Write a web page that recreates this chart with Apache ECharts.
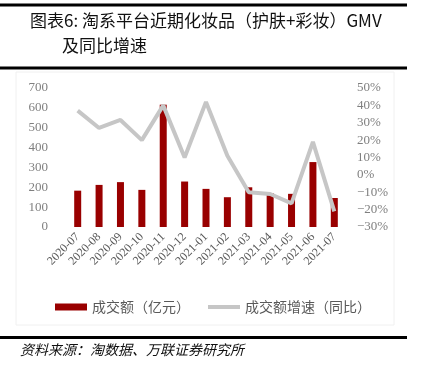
<!DOCTYPE html>
<html><head><meta charset="utf-8">
<script src="https://cdn.jsdelivr.net/npm/echarts@6/dist/echarts.min.js"></script>
<style>html,body{margin:0;padding:0;background:#fff}#c{width:425px;height:370px}</style>
</head><body><div id="c"></div>
<script>
var categories = ['2020-07','2020-08','2020-09','2020-10','2020-11','2020-12','2021-01','2021-02','2021-03','2021-04','2021-05','2021-06','2021-07'];
var gmv = [183, 212, 226, 187, 616, 229, 192, 150, 200, 170, 167, 327, 146];
var yoy = [37, 27, 31.6, 20, 40, 10, 42, 11, -10, -11, -16.4, 19, -21];
var leftTicks = [0, 700, 100];
var rightTicks = [-30, 50, 10];
var titleLine1 = '图表6: 淘系平台近期化妆品（护肤+彩妆）GMV';
var titleLine2 = '及同比增速';
var sourceText = '资料来源：淘数据、万联证券研究所';
var seriesNames = ['成交额（亿元）', '成交额增速（同比）'];

var chart = echarts.init(document.getElementById('c'), null, {renderer: 'canvas'});
var serif = '"Liberation Serif", "DejaVu Serif", serif';
var cjk = '"Noto Sans CJK SC", sans-serif';
chart.setOption({
  animation: false,
  backgroundColor: '#fff',
  grid: {left: 67, right: 80, top: 88, height: 139},
  legend: {
    left: 50, top: 295,
    itemWidth: 32, itemHeight: 7, itemGap: 18,
    textStyle: {fontFamily: cjk, fontSize: 14, color: '#595959'},
    data: [
      {name: seriesNames[0], icon: 'rect'},
      {name: seriesNames[1], icon: 'path://M0,0H32V4H0Z', itemStyle: {color: '#c6c6c6'}}
    ]
  },
  xAxis: {
    type: 'category', data: categories,
    axisLine: {show: false}, axisTick: {show: false},
    axisLabel: {rotate: 45, margin: 8, fontFamily: serif, fontSize: 12, color: '#595959', interval: 0}
  },
  yAxis: [
    {type: 'value', min: leftTicks[0], max: leftTicks[1], interval: leftTicks[2],
     splitLine: {show: false}, axisLine: {show: false}, axisTick: {show: false},
     axisLabel: {margin: 19, fontFamily: serif, fontSize: 13, color: '#7f7f7f'}},
    {type: 'value', min: rightTicks[0], max: rightTicks[1], interval: rightTicks[2],
     splitLine: {show: false}, axisLine: {show: false}, axisTick: {show: false},
     axisLabel: {margin: 12, fontFamily: serif, fontSize: 13, color: '#7f7f7f', align: 'left',
       formatter: function (v) { return (v < 0 ? '\u2212' + (-v) : v) + '%'; }}}
  ],
  series: [
    {name: seriesNames[0], type: 'bar', data: gmv, barWidth: 7, itemStyle: {color: '#990000'}},
    {name: seriesNames[1], type: 'line', yAxisIndex: 1, data: yoy, symbol: 'none',
     lineStyle: {color: '#c6c6c6', width: 4}, itemStyle: {color: '#c6c6c6'}, z: 3}
  ],
  graphic: [
    {type: 'rect', shape: {x: 16, y: 72, width: 378, height: 253}, style: {fill: 'none', stroke: '#f0f0f0', lineWidth: 1}, z: -1},
    {type: 'rect', shape: {x: 0, y: 3.5, width: 407, height: 3}, style: {fill: '#000'}},
    {type: 'rect', shape: {x: 0, y: 66.5, width: 407, height: 3}, style: {fill: '#000'}},
    {type: 'rect', shape: {x: 0, y: 336, width: 407, height: 3}, style: {fill: '#000'}},
    {type: 'text', left: 30, top: 12, style: {text: titleLine1, font: '17px ' + cjk, fill: '#111'}},
    {type: 'text', left: 62, top: 37, style: {text: titleLine2, font: '17px ' + cjk, fill: '#111'}},
    {type: 'text', left: 20, top: 343, style: {text: sourceText, font: 'italic 14px ' + cjk, fill: '#111'}}
  ]
});
</script></body></html>
